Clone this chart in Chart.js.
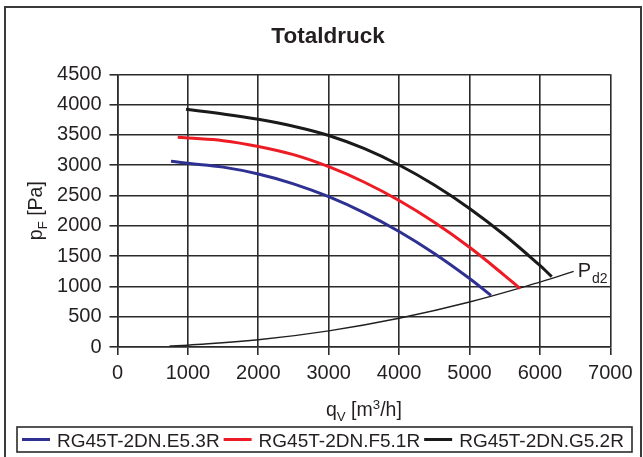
<!DOCTYPE html>
<html>
<head>
<meta charset="utf-8">
<script src="https://cdn.jsdelivr.net/npm/chart.js@4.4.1/dist/chart.umd.min.js"></script>
<style>
  html, body { margin: 0; padding: 0; background: #fff; }
  canvas { display: block; }
</style>
</head>
<body>
<canvas id="c" width="643" height="457"></canvas>
<script>
// Fan curves: total pressure p_F [Pa] over volume flow q_V [m³/h]
const seriesNames = ['RG45T-2DN.E5.3R', 'RG45T-2DN.F5.1R', 'RG45T-2DN.G5.2R'];
const seriesColors = ['#2e3192', '#ed1c24', '#1a1a1a'];

const flowE = [760, 1000, 1500, 2000, 2500, 3000, 3500, 4000, 4500, 5000, 5305];
const pressE = [3065, 3031, 2968, 2855, 2693, 2480, 2217, 1905, 1542, 1130, 853];

const flowF = [855, 1000, 1500, 2000, 2500, 3000, 3500, 4000, 4500, 5000, 5500, 5717];
const pressF = [3460, 3449, 3405, 3310, 3174, 2975, 2723, 2417, 2058, 1645, 1179, 965];

const flowG = [973, 1500, 2000, 2500, 3000, 3500, 4000, 4500, 5000, 5500, 6000, 6168];
const pressG = [3922, 3845, 3757, 3642, 3490, 3276, 3003, 2673, 2287, 1844, 1345, 1160];

// Dynamic pressure at the outlet (P_d2)
const flowPd2 = [740, 1000, 2000, 3000, 4000, 5000, 6000, 6480];
const pressPd2 = [16, 30, 119, 267, 475, 743, 1070, 1247];

const xTicks = [0, 1000, 2000, 3000, 4000, 5000, 6000, 7000];
const yTicks = [0, 500, 1000, 1500, 2000, 2500, 3000, 3500, 4000, 4500];

const FONT = '"Liberation Sans", Arial, Helvetica, sans-serif';
const INK = '#231f20';
const GRID = '#2b2b2b';

function pts(xs, ys) { return xs.map((x, i) => ({ x: x, y: ys[i] })); }

const curves = [pts(flowE, pressE), pts(flowF, pressF), pts(flowG, pressG)];

const datasets = curves.map((d, i) => ({
  label: seriesNames[i],
  data: d,
  borderColor: seriesColors[i],
  backgroundColor: seriesColors[i],
  borderWidth: 3,
  pointRadius: 0,
  tension: 0.4,
  fill: false
}));
datasets.push({
  label: 'Pd2',
  data: pts(flowPd2, pressPd2),
  borderColor: INK,
  borderWidth: 1.4,
  pointRadius: 0,
  tension: 0.4,
  fill: false
});

// draw a run of text pieces, some of them as subscripts / superscripts
function runWidth(ctx, parts, size) {
  let w = 0;
  parts.forEach(p => {
    const s = p.sub || p.sup ? size * 0.68 : size;
    ctx.font = s + 'px ' + FONT;
    w += ctx.measureText(p.t).width;
  });
  return w;
}
function drawRun(ctx, parts, x, y, size) {
  parts.forEach(p => {
    const s = p.sub || p.sup ? size * 0.68 : size;
    ctx.font = s + 'px ' + FONT;
    const dy = p.sub ? size * 0.25 : (p.sup ? -size * 0.38 : 0);
    ctx.fillText(p.t, x, y + dy);
    x += ctx.measureText(p.t).width;
  });
}

const decor = {
  id: 'decor',
  afterDraw(chart) {
    const ctx = chart.ctx;
    const area = chart.chartArea;
    const xs = chart.scales.x, ys = chart.scales.y;
    ctx.save();
    ctx.fillStyle = INK;
    ctx.textBaseline = 'alphabetic';
    ctx.textAlign = 'left';

    // outer frame
    ctx.strokeStyle = '#3a3a3a';
    ctx.lineWidth = 2;
    ctx.strokeRect(5, 7, 636, 470);

    // title
    ctx.font = 'bold 22.5px ' + FONT;
    ctx.textAlign = 'center';
    ctx.fillText('Totaldruck', 328, 42.7);
    ctx.textAlign = 'left';

    // x axis title
    const size = 19.5;
    const xt = [{ t: 'q' }, { t: 'V', sub: true }, { t: ' [m' }, { t: '3', sup: true }, { t: '/h]' }];
    const xw = runWidth(ctx, xt, size);
    drawRun(ctx, xt, (area.left + area.right) / 2 - xw / 2, 416, size);

    // y axis title (rotated)
    const yt = [{ t: 'p' }, { t: 'F', sub: true }, { t: ' [Pa]' }];
    const yw = runWidth(ctx, yt, size);
    ctx.save();
    ctx.translate(42, (area.top + area.bottom) / 2);
    ctx.rotate(-Math.PI / 2);
    drawRun(ctx, yt, -yw / 2, 0, size);
    ctx.restore();

    // P_d2 label next to the end of its curve
    const last = flowPd2.length - 1;
    const px = xs.getPixelForValue(flowPd2[last]);
    const py = ys.getPixelForValue(pressPd2[last]);
    ctx.font = '20px ' + FONT;
    ctx.fillText('P', px + 4, py + 5.6);
    const pw = ctx.measureText('P').width;
    ctx.font = '14px ' + FONT;
    ctx.fillText('d2', px + 4 + pw + 1, py + 11.8);

    // legend box
    const lx = 17, ly = 427, lw = 615, lh = 25;
    ctx.strokeStyle = '#2b2b2b';
    ctx.lineWidth = 1.6;
    ctx.strokeRect(lx, ly, lw, lh);
    let x = lx + 5;
    ctx.font = '19px ' + FONT;
    chart.data.datasets.slice(0, 3).forEach(ds => {
      ctx.strokeStyle = ds.borderColor;
      ctx.lineWidth = 3;
      ctx.beginPath();
      ctx.moveTo(x, ly + lh / 2);
      ctx.lineTo(x + 28, ly + lh / 2);
      ctx.stroke();
      x += 35;
      ctx.fillStyle = INK;
      ctx.fillText(ds.label, x, ly + 19.5);
      x += ctx.measureText(ds.label).width + 4;
    });
    ctx.restore();
  }
};

new Chart(document.getElementById('c'), {
  type: 'line',
  data: { datasets: datasets },
  options: {
    responsive: false,
    animation: false,
    devicePixelRatio: 1,
    layout: { padding: { left: 0, right: 32.7, top: 74.3, bottom: 0 } },
    plugins: { legend: { display: false }, title: { display: false }, tooltip: { enabled: false } },
    scales: {
      x: {
        type: 'linear',
        min: 0, max: 7000,
        afterBuildTicks: s => { s.ticks = xTicks.map(v => ({ value: v })); },
        afterFit: s => { s.height = 110; },
        ticks: { color: INK, font: { family: FONT, size: 20 }, padding: 6, maxRotation: 0,
                 callback: v => String(v) },
        grid: { color: GRID, lineWidth: 1.6, tickLength: 8, drawTicks: true },
        border: { color: GRID, width: 1.6 }
      },
      y: {
        type: 'linear',
        min: 0, max: 4500,
        afterBuildTicks: s => { s.ticks = yTicks.map(v => ({ value: v })); },
        afterFit: s => { s.width = 117.5; },
        ticks: { color: INK, font: { family: FONT, size: 20 }, padding: 8,
                 callback: v => String(v) },
        grid: { color: GRID, lineWidth: 1.6, tickLength: 8, drawTicks: true },
        border: { color: GRID, width: 1.6 }
      }
    }
  },
  plugins: [decor]
});
</script>
</body>
</html>
